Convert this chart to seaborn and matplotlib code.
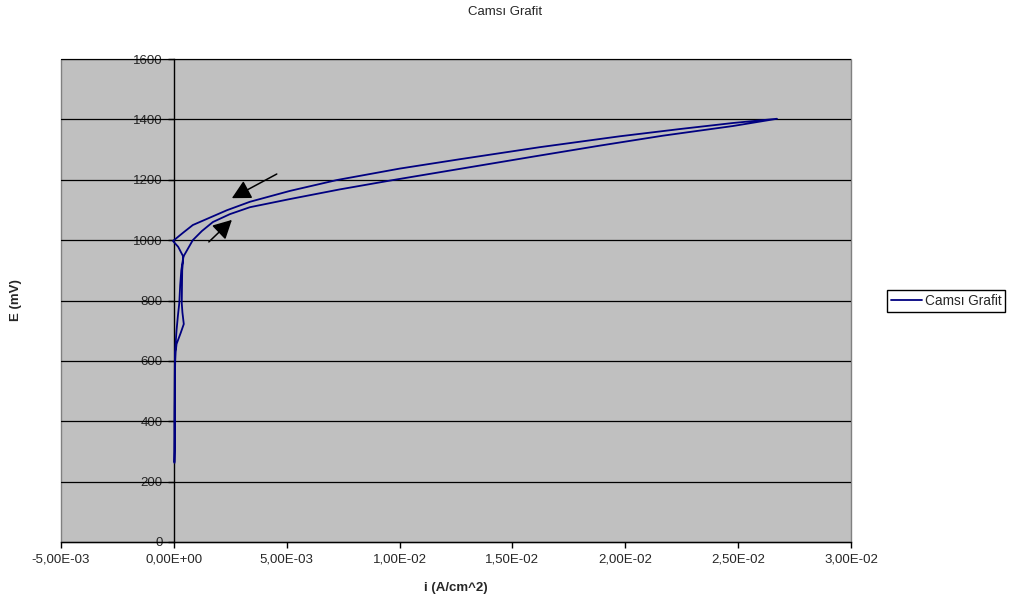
import matplotlib
matplotlib.use("Agg")
import matplotlib.pyplot as plt
import seaborn as sns
import pandas as pd
import numpy as np
from matplotlib.patches import Rectangle
from matplotlib.lines import Line2D
from matplotlib.ticker import FuncFormatter, MultipleLocator

# ---- data ----
# forward (anodic) scan, E ascending
fwd_E = [262, 300, 400, 500, 560, 600, 630, 656, 692, 722, 760, 791, 850, 900, 945,
         1000, 1030, 1060, 1086, 1109, 1136, 1168, 1199, 1236, 1277, 1313, 1346, 1378, 1402]
fwd_i = [0.00003, 0.00004, 0.00004, 0.00005, 0.00005, 0.00006, 0.00008, 0.00012, 0.00030, 0.00044,
         0.00038, 0.00035, 0.00036, 0.00037, 0.00042, 0.00084, 0.00124, 0.00173, 0.00248, 0.00337,
         0.00514, 0.00735, 0.00971, 0.01267, 0.01595, 0.01887, 0.02167, 0.02477, 0.02672]
# reverse scan, E descending
rev_E = [1402, 1388, 1368, 1344, 1308, 1268, 1237, 1199, 1163, 1127, 1099, 1050, 1024,
         997, 978, 945, 900, 850, 791, 750, 702, 660, 625, 550, 450, 350, 265]
rev_i = [0.02672, 0.02477, 0.02242, 0.01976, 0.01622, 0.01267, 0.01001, 0.00722, 0.00514, 0.00337,
         0.00235, 0.00084, 0.00040, -0.00004, 0.00019, 0.00042, 0.00033, 0.00028, 0.00024, 0.00018,
         0.00012, 0.00008, 0.00005, 0.00004, 0.00003, 0.00003, 0.00002]

series_name = "Camsı Grafit"
title_text = "Camsı Grafit"
xlabel_text = "i (A/cm^2)"
ylabel_text = "E (mV)"

# arrows (tail -> head), in data units
arrow_tails = [(0.00456, 1219), (0.00155, 994)]
arrow_heads = [(0.00257, 1139), (0.00257, 1067)]

df = pd.DataFrame({
    "i": fwd_i + rev_i,
    "E": fwd_E + rev_E,
})

sns.set_theme(style="white")
plt.rcParams["font.family"] = ["Liberation Sans", "DejaVu Sans"]

fig = plt.figure(figsize=(10.10, 5.99), dpi=100)
ax = fig.add_axes([61 / 1010, 1 - 542 / 599, (851 - 61) / 1010, (542 - 59) / 599])
ax.set_facecolor("#C0C0C0")

# grid lines
for yv in range(200, 1601, 200):
    ax.axhline(yv, color="black", lw=0.9, zorder=1)

sns.lineplot(data=df, x="i", y="E", sort=False, estimator=None, color="#000080",
             lw=1.3, ax=ax, zorder=3, legend=False)

ax.set_xlim(-0.005, 0.03)
ax.set_ylim(0, 1600)
ax.xaxis.set_major_locator(MultipleLocator(0.005))
ax.yaxis.set_major_locator(MultipleLocator(200))
ax.xaxis.set_major_formatter(FuncFormatter(lambda v, p: f"{v:.2E}".replace(".", ",").replace("-0,00", "0,00")))
ax.yaxis.set_major_formatter(FuncFormatter(lambda v, p: f"{v:.0f}"))

for s in ["top", "right"]:
    ax.spines[s].set_visible(False)
ax.spines["left"].set_position(("data", 0))
ax.spines["left"].set_color("black")
ax.spines["left"].set_linewidth(1.0)
ax.spines["bottom"].set_color("black")
ax.spines["bottom"].set_linewidth(1.0)
ax.add_patch(Rectangle((0, 0), 1, 1, transform=ax.transAxes, fill=False,
                       edgecolor="#808080", lw=1.0, zorder=0.5, clip_on=False))

ax.tick_params(axis="both", which="major", direction="out", length=4, width=1,
               color="black", labelsize=9.5, pad=4, left=True, bottom=True)

ax.set_xlabel(xlabel_text, fontsize=9.5, fontweight="bold", labelpad=12)
ax.set_ylabel("")
fig.text(16 / 1010, 1 - 300 / 599, ylabel_text, rotation=90, fontsize=9.5,
         fontweight="bold", ha="center", va="center")
fig.text(505 / 1010, 1 - 12 / 599, title_text, fontsize=9.5, ha="center", va="center")

for (tx, ty), (hx, hy) in zip(arrow_tails, arrow_heads):
    ax.annotate("", xy=(hx, hy), xytext=(tx, ty),
                arrowprops=dict(arrowstyle="-|>,head_length=0.95,head_width=0.5",
                                color="black", lw=1.1, shrinkA=0, shrinkB=0),
                zorder=4)

handles = [Line2D([], [], color="#000080", lw=1.3)]
leg = fig.legend(handles, [series_name], loc="center left",
                 bbox_to_anchor=(887 / 1010, 1 - 301 / 599), fontsize=9.8,
                 frameon=True, fancybox=False, edgecolor="black", framealpha=1,
                 handlelength=2.3, borderpad=0.28, handletextpad=0.2,
                 borderaxespad=0)
leg.get_frame().set_linewidth(1.0)

fig.savefig("out.png", dpi=100, facecolor="white")
